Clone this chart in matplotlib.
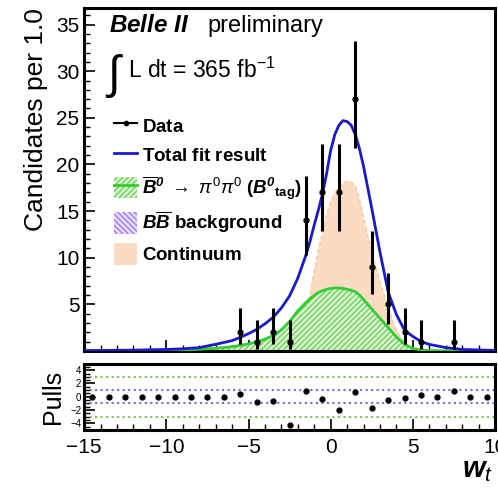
import numpy as np
import matplotlib
matplotlib.use("Agg")
import matplotlib.pyplot as plt
from matplotlib.lines import Line2D
from matplotlib.patches import Patch
from matplotlib.ticker import MultipleLocator

plt.rcParams['font.family'] = ['Liberation Sans', 'DejaVu Sans']
plt.rcParams['mathtext.fontset'] = 'custom'
plt.rcParams['mathtext.rm'] = 'Liberation Sans'
plt.rcParams['mathtext.it'] = 'Liberation Sans:italic'
plt.rcParams['mathtext.bf'] = 'Liberation Sans:bold'
plt.rcParams['mathtext.bfit'] = 'Liberation Sans:bold:italic'
plt.rcParams['hatch.linewidth'] = 0.8

# ---- data ----
bin_centers = [-5.5, -4.5, -3.5, -2.5, -1.5, -0.5, 0.5, 1.5, 2.5, 3.5, 4.5, 5.5, 7.5]
counts      = [2, 1, 2, 1, 14, 17, 17, 27, 9, 5, 2, 1, 1]
err_low     = [1.29, 0.83, 1.29, 0.83, 3.7, 4.1, 4.1, 5.2, 2.94, 2.16, 1.29, 0.83, 0.83]
err_high    = [2.64, 2.30, 2.64, 2.30, 4.8, 5.2, 5.2, 6.2, 3.82, 3.38, 2.64, 2.30, 2.30]

# ---- fit curves ----
x_curve = [-15, -12, -10, -9, -8, -7, -6, -5.5, -5, -4.5, -4, -3.5, -3, -2.5, -2, -1.5,
           -1.25, -1, -0.75, -0.5, -0.25, 0, 0.25, 0.5, 0.75, 1, 1.25, 1.5, 1.75, 2,
           2.5, 3, 3.5, 4, 4.5, 5, 5.5, 6, 7, 8, 10]
total_fit = [0.03, 0.08, 0.15, 0.22, 0.35, 0.7, 1.1, 1.45, 1.85, 2.3, 2.9, 3.6, 4.6, 5.9, 7.8, 10.3,
             11.8, 13.5, 15.1, 16.8, 19.0, 21.5, 23.2, 24.2, 24.7, 24.6, 24.2, 23.2, 21.7, 19.8,
             15.3, 10.6, 6.3, 3.9, 2.2, 1.55, 1.0, 0.7, 0.35, 0.15, 0.05]
signal    = [0.0, 0.02, 0.06, 0.1, 0.17, 0.28, 0.45, 0.58, 0.75, 0.97, 1.25, 1.65, 2.25, 3.15, 4.3, 5.2,
             5.6, 5.95, 6.25, 6.45, 6.6, 6.7, 6.75, 6.75, 6.7, 6.6, 6.5, 6.35, 6.0, 5.5,
             4.5, 3.5, 2.5, 1.5, 0.7, 0.25, 0.1, 0.03, 0.0, 0.0, 0.0]
continuum = [0.01, 0.05, 0.1, 0.14, 0.2, 0.3, 0.5, 0.65, 0.8, 1.0, 1.25, 1.55, 1.95, 2.5, 3.2, 4.4,
             6.0, 8.6, 10.8, 12.6, 14.6, 16.0, 16.9, 17.6, 18.0, 18.2, 18.1, 17.7, 16.3, 14.3,
             10.6, 7.4, 4.6, 2.2, 0.8, 0.3, 0.1, 0.04, 0.01, 0.0, 0.0]

# ---- pulls ----
pull_x = [-14.5, -13.5, -12.5, -11.5, -10.5, -9.5, -8.5, -7.5, -6.5, -5.5, -4.5, -3.5, -2.5,
          -1.5, -0.5, 0.5, 1.5, 2.5, 3.5, 4.5, 5.5, 6.5, 7.5, 8.5, 9.5]
pulls  = [0, 0, 0, 0, 0, 0, 0, 0, 0, 0.46, -0.84, -0.6, -4.2,
          0.94, -0.4, -1.94, 0.79, -1.7, -0.5, -0.17, 0.2, 0, 0.94, 0, 0]

x_ticks = [-15, -10, -5, 0, 5, 10]
y_ticks = [5, 10, 15, 20, 25, 30, 35]
pull_ticks = [-4, -2, 0, 2, 4]

fig = plt.figure(figsize=(4.98, 4.88), dpi=100)
ax = fig.add_axes([0.169, 0.281, 0.825, 0.703])
axp = fig.add_axes([0.169, 0.119, 0.825, 0.136])

xc = np.array(x_curve)
# continuum
ax.fill_between(xc, 0, continuum, facecolor='#fbdcc2', edgecolor='none', zorder=1)
ax.plot(xc, continuum, color='#f6c9a0', lw=1.0, ls=(0, (3, 2)), zorder=1.1)
# signal
ax.fill_between(xc, 0, signal, facecolor='#d6f5cc', edgecolor='#5cc84a', hatch='//////',
                linewidth=0, zorder=2)
ax.plot(xc, signal, color='#33cc33', lw=2.0, zorder=3)
# total
ax.plot(xc, total_fit, color='#1a1acc', lw=2.0, zorder=4)
# data
ax.errorbar(bin_centers, counts, yerr=[err_low, err_high], fmt='o', color='black', ms=3.5,
            elinewidth=2.2, capsize=0, zorder=5)

ax.set_xlim(-15, 10)
ax.set_ylim(0, 36.8)
ax.set_yticks(y_ticks)
ax.set_xticks(x_ticks)
ax.xaxis.set_minor_locator(MultipleLocator(1))
ax.yaxis.set_minor_locator(MultipleLocator(1))
ax.tick_params(axis='both', which='both', direction='in', top=False, right=False)
ax.tick_params(which='major', length=8, width=1.2, labelsize=15)
ax.tick_params(which='minor', length=4, width=1.0)
ax.tick_params(axis='x', labelbottom=False)
ax.set_ylabel('Candidates per 1.0', fontsize=19, loc='top', labelpad=6)
for s in ax.spines.values():
    s.set_linewidth(2.2)

ax.text(0.06, 0.978, r'$\mathbfit{Belle\ II}$', transform=ax.transAxes, fontsize=17.5,
        va='top', ha='left')
ax.text(0.3, 0.978, 'preliminary', transform=ax.transAxes, fontsize=17, va='top', ha='left')
ax.text(0.05, 0.80, r'$\int$', transform=ax.transAxes, fontsize=33, va='center', ha='left')
ax.text(0.107, 0.818, r'L dt = 365 fb$^{-1}$', transform=ax.transAxes, fontsize=16.5,
        va='center', ha='left')

handles = [
    Line2D([0], [0], color='black', marker='o', ms=3, lw=1.5),
    Line2D([0], [0], color='#1a1acc', lw=2),
    (Patch(facecolor='#d6f5cc', edgecolor='#5cc84a', hatch='//////', lw=0),
     Line2D([0], [0], color='#33cc33', lw=2)),
    Patch(facecolor='#e6d9ff', edgecolor='#9966ee', hatch='\\\\\\\\\\\\', lw=0),
    Patch(facecolor='#fbdcc2', edgecolor='none'),
]
labels = [
    r'$\mathbf{Data}$',
    r'$\mathbf{Total\ fit\ result}$',
    r'$\mathbfit{\overline{B}^0}$ $\rightarrow$ $\pi^0\pi^0$ $\mathbf{(}\mathbfit{B^0}_{\mathbf{tag}}\mathbf{)}$',
    r'$\mathbfit{B\overline{B}}$ $\mathbf{background}$',
    r'$\mathbf{Continuum}$',
]
leg = ax.legend(handles, labels, loc='upper left', bbox_to_anchor=(0.055, 0.71), frameon=False,
                fontsize=13.5, handlelength=1.2, handleheight=1.4, handletextpad=0.3,
                labelspacing=0.42, borderaxespad=0)

# pulls panel
axp.axhline(3, color='#88bb55', ls=':', lw=1.5)
axp.axhline(-3, color='#88bb55', ls=':', lw=1.5)
axp.axhline(1, color='#7766ee', ls=':', lw=1.5)
axp.axhline(-1, color='#7766ee', ls=':', lw=1.5)
axp.plot(pull_x, pulls, 'o', color='black', ms=3.5, zorder=5)
axp.set_xlim(-15, 10)
axp.set_ylim(-5, 5)
axp.set_xticks(x_ticks)
axp.set_yticks(pull_ticks)
axp.xaxis.set_minor_locator(MultipleLocator(1))
axp.yaxis.set_minor_locator(MultipleLocator(0.5))
axp.tick_params(axis='both', which='both', direction='in', top=False, right=False)
axp.tick_params(which='major', length=8, width=1.2)
axp.tick_params(which='minor', length=4, width=1.0)
axp.tick_params(axis='x', labelsize=15, pad=6)
axp.tick_params(axis='y', labelsize=7, pad=2)
axp.set_ylabel('Pulls', fontsize=18, labelpad=4)
for s in axp.spines.values():
    s.set_linewidth(2.2)

fig.text(0.99, 0.008, r'$\mathbfit{w}_{\mathit{t}}$', fontsize=21, ha='right', va='bottom')

fig.savefig('out.png', dpi=100)
